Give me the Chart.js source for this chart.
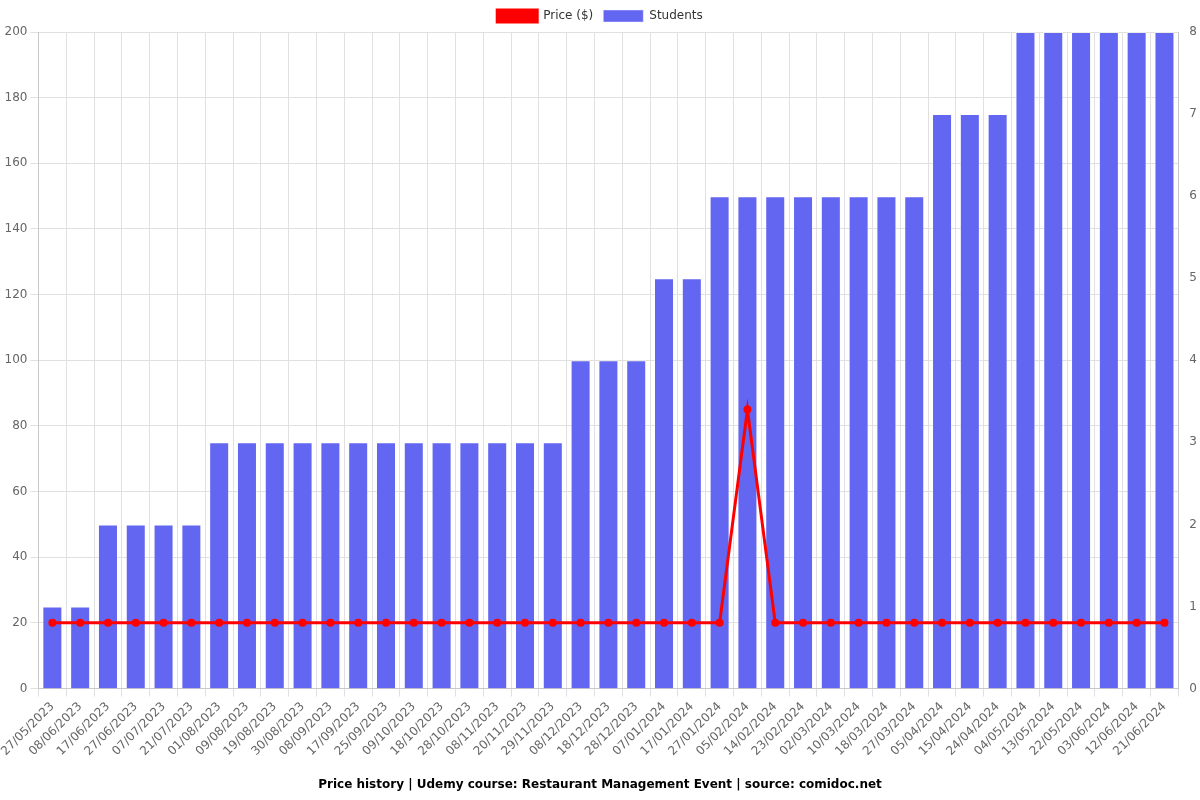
<!DOCTYPE html>
<html><head><meta charset="utf-8">
<script src="https://cdn.jsdelivr.net/npm/chart.js@4/dist/chart.umd.min.js"></script>
<style>html,body{margin:0;padding:0;background:#fff}#wrap{width:1200px;height:800px}</style>
</head><body><div id="wrap"><canvas id="c" width="1200" height="800"></canvas></div>
<script>
const labels = ["27/05/2023","08/06/2023","17/06/2023","27/06/2023","07/07/2023","21/07/2023","01/08/2023","09/08/2023","19/08/2023","30/08/2023","08/09/2023","17/09/2023","25/09/2023","09/10/2023","18/10/2023","28/10/2023","08/11/2023","20/11/2023","29/11/2023","08/12/2023","18/12/2023","28/12/2023","07/01/2024","17/01/2024","27/01/2024","05/02/2024","14/02/2024","23/02/2024","02/03/2024","10/03/2024","18/03/2024","27/03/2024","05/04/2024","15/04/2024","24/04/2024","04/05/2024","13/05/2024","22/05/2024","03/06/2024","12/06/2024","21/06/2024"];
const price = [20,20,20,20,20,20,20,20,20,20,20,20,20,20,20,20,20,20,20,20,20,20,20,20,20,85,20,20,20,20,20,20,20,20,20,20,20,20,20,20,20];
const students = [1,1,2,2,2,2,3,3,3,3,3,3,3,3,3,3,3,3,3,4,4,4,5,5,6,6,6,6,6,6,6,6,7,7,7,8,8,8,8,8,8];
const title = "Price history | Udemy course: Restaurant Management Event | source: comidoc.net";
Chart.defaults.font.family = "'DejaVu Sans', sans-serif";
Chart.defaults.font.size = 12;
Chart.defaults.color = "#666";
new Chart(document.getElementById('c'), {
  data: {
    labels: labels,
    datasets: [
      {type:'line', label:'Price ($)', data: price, borderColor:'#ff0000', backgroundColor:'#ff0000', borderWidth:3, pointRadius:2.5, pointBackgroundColor:'#ff0000', yAxisID:'y', tension:0, order:0},
      {type:'bar', label:'Students', data: students, backgroundColor:'#6366f1', borderColor:'rgba(255,255,255,0.4)', borderWidth:1, yAxisID:'y1', order:1, categoryPercentage:0.8, barPercentage:0.9}
    ]
  },
  options: {
    responsive:false, animation:false,
    layout:{padding:{left:0,right:0,top:0,bottom:0}},
    plugins:{
      legend:{position:'top', labels:{boxWidth:40, boxHeight:12, font:{size:12}, color:'#333'}},
      title:{display:true, text:title, position:'bottom', font:{size:12, weight:'bold'}, color:'#000', padding:{top:16,bottom:8}}
    },
    scales:{
      x:{ticks:{maxRotation:45, minRotation:45, autoSkip:false, color:'#666'}, grid:{color:'#e0e0e0'}},
      y:{position:'left', min:0, max:200, ticks:{stepSize:20}, grid:{color:'#e0e0e0'}},
      y1:{position:'right', min:0, max:8, ticks:{stepSize:1}, grid:{display:false}}
    }
  }
});
</script></body></html>
